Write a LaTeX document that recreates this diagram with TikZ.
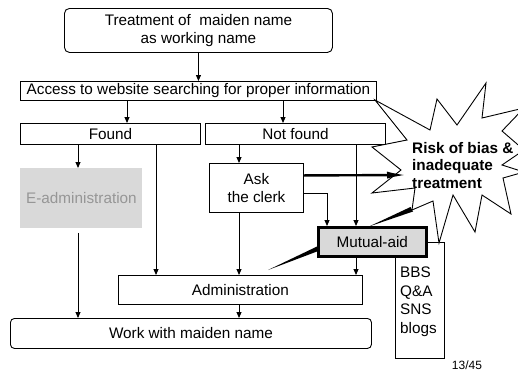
\documentclass[tikz,border=0pt]{standalone}
\usepackage{fontspec}
\setmainfont{Liberation Sans}
\usetikzlibrary{arrows.meta}
\definecolor{boxgrey}{RGB}{217,217,217}
\definecolor{textgrey}{RGB}{150,150,150}
\begin{document}
\begin{tikzpicture}[x=1pt,y=-1pt,
  txt/.style={font=\fontsize{15.3}{18.5}\selectfont},
  box/.style={txt, draw, line width=0.9pt, inner sep=0pt, anchor=north west, align=center},
  arr/.style={line width=0.9pt, -{Triangle[length=6pt,width=5pt]}},
  ln/.style={line width=0.9pt},
  bigarr/.style={line width=2.4pt, -{Latex[length=20pt,width=7pt]}}]
\clip (0,0) rectangle (518,372);
\fill[white] (0,0) rectangle (518,372);
% boxes
\node[box, rounded corners=5pt, minimum width=268pt, minimum height=44pt] (top) at (64,8) {Treatment of~ maiden name\\as working name};
\node[box, minimum width=356pt, minimum height=19pt] (access) at (20,81) {Access to website searching for proper information};
\node[box, minimum width=180pt, minimum height=21pt] (found) at (20,123) {Found};
\node[box, minimum width=180pt, minimum height=21pt] (notfound) at (205,123) {Not found};
\node[box, draw=none, fill=boxgrey, text=textgrey, minimum width=122pt, minimum height=60pt] (eadmin) at (20,168) {E-administration};
\node[box, minimum width=94pt, minimum height=49pt] (ask) at (209,163) {Ask\\the clerk};
\node[box, minimum width=49pt, minimum height=116pt] (bbs) at (395,242) {};
\node[txt, anchor=north west, align=left, inner sep=0pt] (bbstext) at (400,267) {BBS\\Q\&A\\SNS\\blogs};
\node[box, line width=2.5pt, fill=boxgrey, minimum width=108pt, minimum height=29pt] (mutual) at (317,226) {Mutual-aid};
\node[box, minimum width=244pt, minimum height=29pt] (admin) at (118,275) {Administration};
\node[box, rounded corners=4pt, minimum width=361pt, minimum height=30pt] (work) at (10,318) {Work with maiden name};
\node[font=\fontsize{12}{14}\selectfont, inner sep=0pt] (page) at (467,365) {13/45};
% x positions for connectors
\coordinate (x78) at (78,0);
\coordinate (x127) at (127,0);
\coordinate (x156) at (156,0);
\coordinate (x239) at (239,0);
\coordinate (x283) at (283,0);
\coordinate (x327) at (327,0);
\coordinate (x356) at (356,0);
% connectors
\draw[arr] (top.south) -- (top.south |- access.north);
\draw[arr] (x127 |- access.south) -- (x127 |- found.north);
\draw[arr] (x283 |- access.south) -- (x283 |- notfound.north);
\draw[arr] (x78 |- found.south) -- (x78 |- eadmin.north);
\draw[arr] ([yshift=-4pt]x78 |- eadmin.south) -- (x78 |- work.north);
\draw[arr] (x156 |- found.south) -- (x156 |- admin.north);
\draw[arr] (x239 |- notfound.south) -- (x239 |- ask.north);
\draw[arr] (x239 |- ask.south) -- (x239 |- admin.north);
\draw[arr] ([yshift=-5.5pt]ask.east) -| (x327 |- mutual.north);
\draw[arr] (x356 |- notfound.south) -- (x356 |- mutual.north);
\draw[arr] (x356 |- mutual.south) -- (x356 |- admin.north);
\draw[arr] (x239 |- admin.south) -- (x239 |- work.north);
% star
\draw[ln, fill=white] (375,100) -- (430,130) -- (437,99) -- (457,125) -- (486,83) -- (482,118)
  -- (524,108) -- (502,131) -- (524,150) -- (502,165) -- (524,172) -- (503,178) -- (511,214)
  -- (482,195) -- (475,232) -- (453,195) -- (439,243) -- (433,201) -- (412,210) -- (415,188)
  -- (372,193) -- (401,170) -- (372,147) -- (407,140) -- cycle;
\node[txt, font=\fontsize{15.3}{17.7}\selectfont\bfseries, anchor=north west, align=left, inner sep=0pt] (risk) at (412,142) {Risk of bias \&\\inadequate\\treatment};
% thick arrow and pointers
\coordinate (starin) at (407,175);
\draw[bigarr] ([yshift=12.5pt]ask.east) -- (starin);
\fill (369,226.5) -- (410.5,207) -- (413,211.5) -- cycle;
\fill (mutual.west |- 0,246.5) -- (mutual.west |- 0,251.5) -- (268,270) -- cycle;
\end{tikzpicture}
\end{document}
